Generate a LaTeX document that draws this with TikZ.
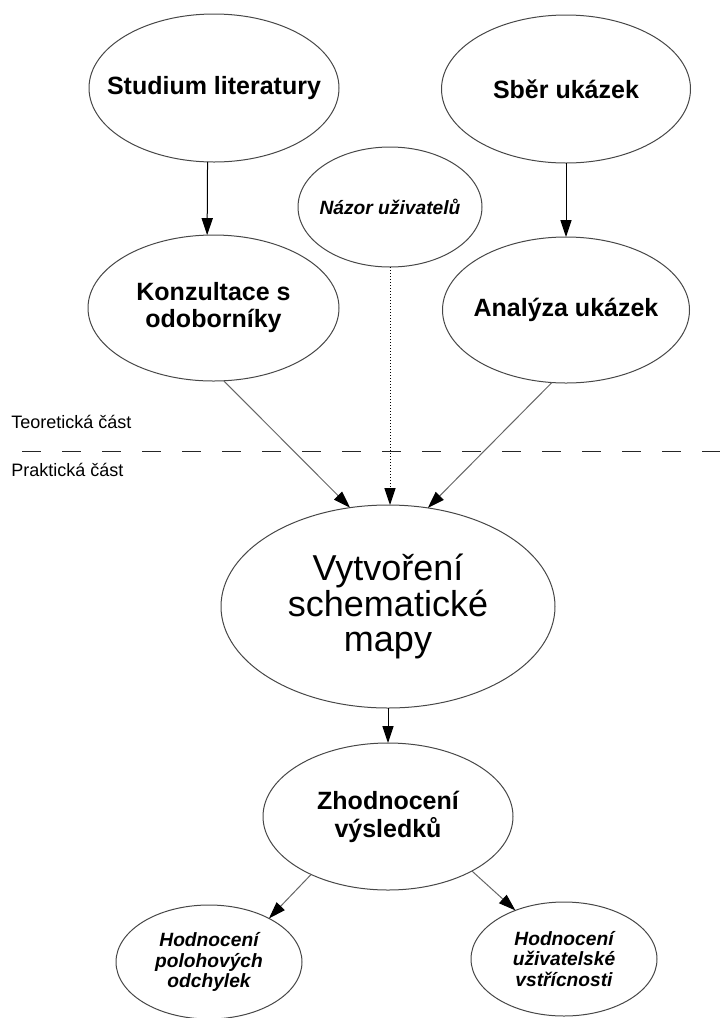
\documentclass[tikz,border=0pt]{standalone}
\usepackage{fontspec}
\setmainfont{Liberation Sans}
\usetikzlibrary{shapes.geometric,arrows.meta}

\tikzset{
  oval/.style={draw=black!72, line width=0.5pt, ellipse, inner sep=0pt, outer sep=0pt},
  boldtext/.style={align=center, inner sep=0pt, font=\fontsize{12.5}{13.5}\selectfont\bfseries},
  boldtextwide/.style={boldtext, font=\fontsize{12.5}{14}\selectfont\bfseries},
  smalltext/.style={align=center, inner sep=0pt, font=\fontsize{9.6}{10.4}\selectfont\bfseries\itshape},
  bigtext/.style={align=center, inner sep=0pt, font=\fontsize{18}{17.8}\selectfont},
  sidetext/.style={anchor=base west, inner sep=0pt, font=\fontsize{9}{11}\selectfont},
  tip/.style={-{Triangle[length=8.5pt,width=5.6pt,color=black]}},
  mainarrow/.style={tip, draw=black, line width=0.5pt},
  greyarrow/.style={tip, draw=black!60, line width=0.5pt},
  dotarrow/.style={tip, draw=black, line width=0.5pt, dash pattern=on 0.5pt off 1pt},
}

\begin{document}
\begin{tikzpicture}[x=0.5pt, y=-0.5pt]
  \useasboundingbox (0,0) rectangle (720,1018);
  \clip (0,0) rectangle (720,1018);

  % ellipses (minimum width/height = diameter in px * 0.5pt)
  \node[oval, minimum width=125pt, minimum height=74pt] (s) at (214,88) {};
  \node[oval, minimum width=124.5pt, minimum height=74pt] (b) at (566,89) {};
  \node[oval, minimum width=92pt, minimum height=60pt] (n) at (390,207) {};
  \node[oval, minimum width=125.5pt, minimum height=73pt] (k) at (213.5,308) {};
  \node[oval, minimum width=123.5pt, minimum height=73pt] (a) at (566,310) {};
  \node[oval, minimum width=167pt, minimum height=101.5pt] (v) at (388,606.5) {};
  \node[oval, minimum width=125pt, minimum height=73.5pt] (z) at (388,816.5) {};
  \node[oval, minimum width=93pt, minimum height=57pt] (h1) at (209,962) {};
  \node[oval, minimum width=93pt, minimum height=57pt] (h2) at (564,959) {};

  % texts
  \node[boldtext] (st) at (s) {Studium literatury};
  \node[boldtext] (bt) at (b) {Sběr ukázek};
  \node[smalltext] (nt) at (n) {Názor uživatelů};
  \node[boldtext] (kt) at (k) {Konzultace s\\odoborníky};
  \node[boldtext] (at) at (a) {Analýza ukázek};
  \node[bigtext] (vt) at (v) {Vytvoření\\schematické\\mapy};
  \node[boldtextwide] (zt) at (z) {Zhodnocení\\výsledků};
  \node[smalltext] (h1t) at (h1) {Hodnocení\\polohových\\odchylek};
  \node[smalltext] (h2t) at (h2) {Hodnocení\\uživatelské\\vstřícnosti};

  % part labels and divider
  \node[sidetext] (teo) at (11,428) {Teoretická část};
  \node[sidetext] (pra) at (11,476) {Praktická část};
  \draw[black!85, line width=0.5pt, dash pattern=on 9.5pt off 10.5pt] (22,451.7) -- (720,451.7);

  % connectors
  \draw[mainarrow] (s.-95) -- (k.95);
  \draw[mainarrow] (b) -- (a);
  \draw[dotarrow] (n.south) -- (n.south |- v.north);
  \draw[greyarrow] (k.-82) -- (v.111);
  \draw[greyarrow] (a.-101.6) -- (v.68.7);
  \draw[mainarrow] (v) -- (z);
  \draw[greyarrow] (z.-143) -- (h1.36.7);
  \draw[greyarrow] (z.-33) -- (h2.135.6);
\end{tikzpicture}
\end{document}
